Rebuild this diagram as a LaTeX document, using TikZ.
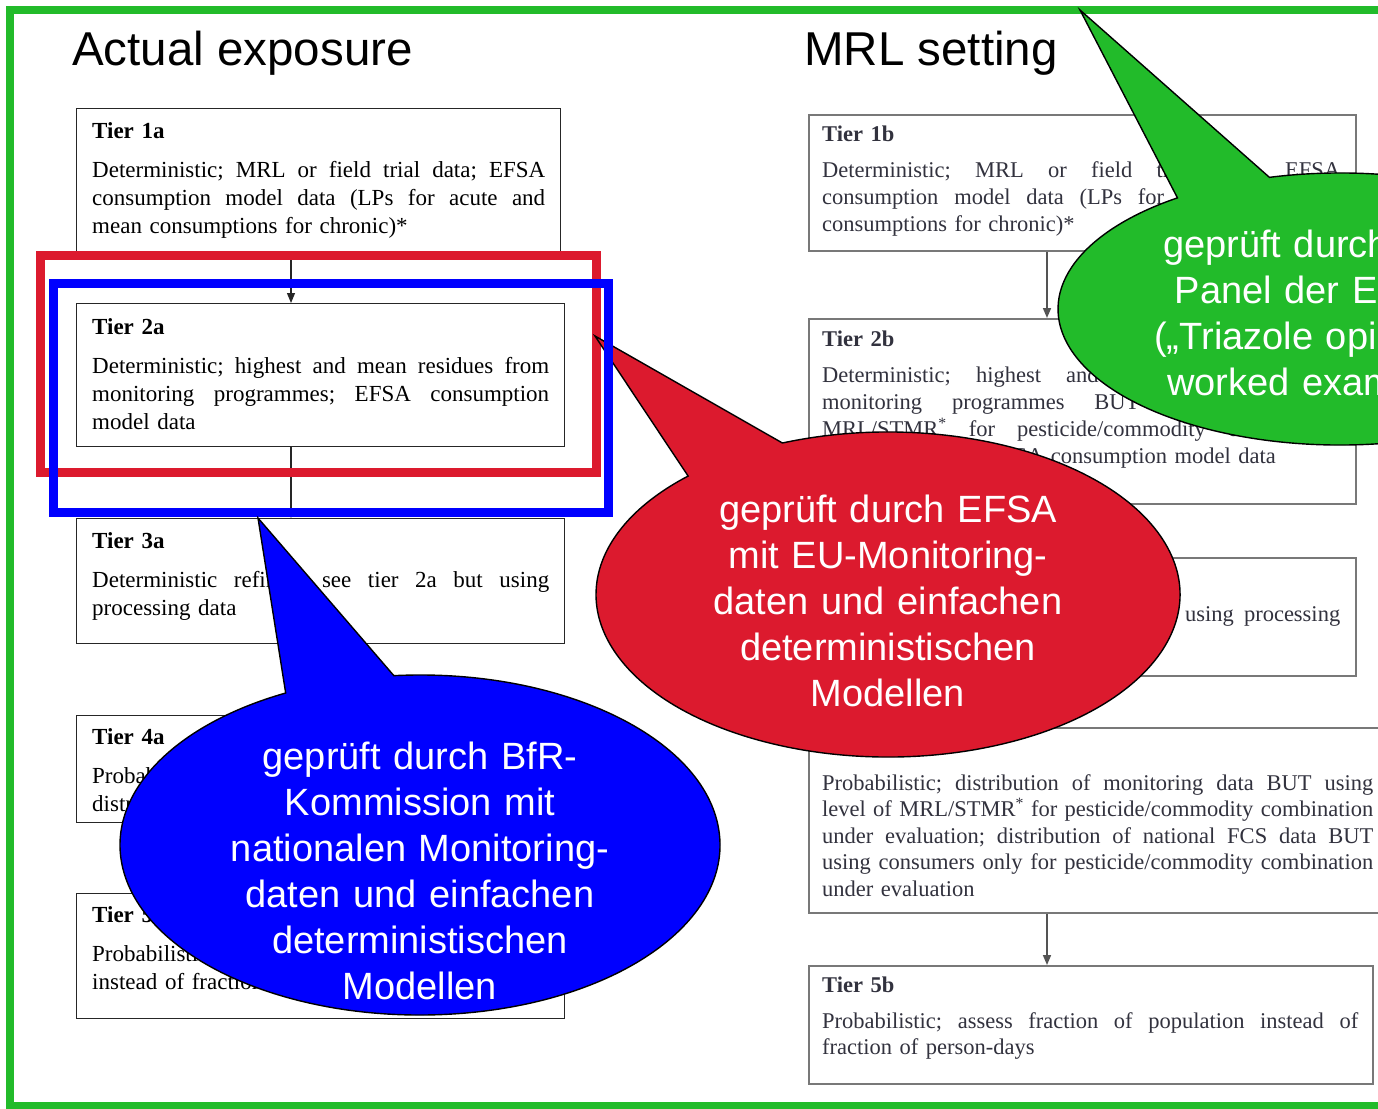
\documentclass[tikz,border=0pt]{standalone}
\usepackage{fontspec}
\setmainfont{Liberation Serif}
\newfontfamily\arialfont{Liberation Sans}
\usetikzlibrary{arrows.meta,calc}
\definecolor{frameGreen}{RGB}{34,187,42}
\definecolor{callRed}{RGB}{220,26,46}
\definecolor{callBlue}{RGB}{0,0,255}
\definecolor{scanText}{RGB}{50,50,62}
\definecolor{scanLine}{RGB}{120,120,120}
% one justified line of a given width: spaces stretch evenly
\newcommand\jl[2]{\leavevmode\hbox to #1{\frenchspacing\spaceskip=0.25em plus 1fil\relax #2}}
\begin{document}
\begin{tikzpicture}[x=1pt,y=-1pt,
 lbox/.style={draw=black!85, line width=1.1pt, anchor=north west, inner sep=0pt, fill=white},
 rbox/.style={draw=scanLine, line width=1.8pt, anchor=north west, inner sep=0pt, fill=white},
 ltext/.style={anchor=base west, inner sep=0pt, align=left, text width=457pt, font=\fontsize{23}{28}\selectfont, text=black},
 rtext/.style={anchor=base west, inner sep=0pt, align=left, text width=518pt, font=\fontsize{22.5}{27}\selectfont, text=scanText},
 arr/.style={draw=black!85, line width=1.1pt, -{Triangle[length=10pt,width=8pt]}},
 rarr/.style={draw=scanLine!70!black, line width=1.6pt, -{Triangle[length=10pt,width=8pt]}},
 calltext/.style={anchor=base, inner sep=0pt, align=center, text width=560pt, text=white, font=\arialfont\fontsize{38}{46}\selectfont},
 callout/.style={line width=1.4pt, draw=black, line join=miter, miter limit=40},
 heading/.style={anchor=base west, inner sep=0pt, font=\arialfont\fontsize{47.5}{56}\selectfont}
]
\useasboundingbox (0,0) rectangle (1378,1108);
\clip (0,0) rectangle (1378,1108);
\fill[white] (0,0) rectangle (1378,1108);

% green frame
\draw[frameGreen, line width=8pt] (10,10.5) rectangle (1420,1106);

% headings
\node[heading] (hActual) at (72,66) {Actual exposure};
\node[heading] (hMRL) at (804,66) {MRL setting};

% ---------- left column ----------
\node[lbox, minimum width=484pt, minimum height=148pt] (b1a) at (76,108) {};
\node[ltext, text width=453pt] (t1a) at (92,138) {\textbf{Tier 1a}\\[11pt]
\jl{453pt}{Deterministic; MRL or field trial data; EFSA}\\
\jl{453pt}{consumption model data (LPs for acute and}\\
mean consumptions for chronic)*};

\node[lbox, minimum width=488pt, minimum height=143pt] (b2a) at (76,303) {};
\node[ltext] (t2a) at (92,334) {\textbf{Tier 2a}\\[11pt]
\jl{457pt}{Deterministic; highest and mean residues from}\\
\jl{457pt}{monitoring programmes; EFSA consumption}\\
model data};

\node[lbox, minimum width=488pt, minimum height=125pt] (b3a) at (76,518) {};
\node[ltext] (t3a) at (92,548) {\textbf{Tier 3a}\\[11pt]
\jl{457pt}{Deterministic refined; see tier 2a but using}\\
processing data};

\node[lbox, minimum width=488pt, minimum height=107pt] (b4a) at (76,715) {};
\node[ltext] (t4a) at (92,744) {\textbf{Tier 4a}\\[11pt]
\jl{457pt}{Probabilistic; distribution of monitoring data;}\\
distribution of national FCS data};

\node[lbox, minimum width=488pt, minimum height=125pt] (b5a) at (76,893) {};
\node[ltext] (t5a) at (92,922) {\textbf{Tier 5a}\\[11pt]
\jl{457pt}{Probabilistic; assess fraction of population}\\
instead of fraction of person-days};

\draw[arr] ([xshift=215pt]b1a.south west) -- ([xshift=215pt]b2a.north west);
\draw[arr] ([xshift=215pt]b2a.south west) -- ([xshift=215pt]b3a.north west);
\draw[arr] ([xshift=215pt]b3a.south west) -- ([xshift=215pt]b4a.north west);
\draw[arr] ([xshift=215pt]b4a.south west) -- ([xshift=215pt]b5a.north west);

% ---------- right column ----------
\node[rbox, minimum width=547pt, minimum height=136pt] (b1b) at (808,114) {};
\node[rtext] (t1b) at (822,141) {\textbf{Tier 1b}\\[9pt]
\jl{518pt}{Deterministic; MRL or field trial data; EFSA}\\
\jl{518pt}{consumption model data (LPs for acute and mean}\\
consumptions for chronic)*};

\node[rbox, minimum width=547pt, minimum height=185pt] (b2b) at (808,318) {};
\node[rtext] (t2b) at (822,346) {\textbf{Tier 2b}\\[9pt]
\jl{518pt}{Deterministic; highest and mean residues from}\\
\jl{518pt}{monitoring programmes BUT using level of}\\
\jl{518pt}{MRL/STMR\textsuperscript{*} for pesticide/commodity combination}\\
under evaluation; EFSA consumption model data};

\node[rbox, minimum width=547pt, minimum height=118pt] (b3b) at (808,557) {};
\node[rtext] (t3b) at (822,585) {\textbf{Tier 3b}\\[9pt]
\jl{518pt}{Deterministic refined; see tier 2b but using processing}\\
data};

\node[rbox, minimum width=590pt, minimum height=185pt] (b4b) at (808,727) {};
\node[rtext, text width=551pt, font=\fontsize{22.5}{26.5}\selectfont] (t4b) at (822,790) {%
\jl{551pt}{Probabilistic; distribution of monitoring data BUT using}\\
\jl{551pt}{level of MRL/STMR\textsuperscript{*} for pesticide/commodity combination}\\
\jl{551pt}{under evaluation; distribution of national FCS data BUT}\\
\jl{551pt}{using consumers only for pesticide/commodity combination}\\
under evaluation};

\node[rbox, minimum width=564pt, minimum height=118pt] (b5b) at (808,965) {};
\node[rtext, text width=536pt, font=\fontsize{22.5}{26}\selectfont] (t5b) at (822,992) {\textbf{Tier 5b}\\[10pt]
\jl{536pt}{Probabilistic; assess fraction of population instead of}\\
fraction of person-days};

\draw[rarr] ([xshift=239pt]b1b.south west) -- ([xshift=239pt]b2b.north west);
\draw[rarr] ([xshift=239pt]b2b.south west) -- ([xshift=239pt]b3b.north west);
\draw[rarr] ([xshift=239pt]b3b.south west) -- ([xshift=239pt]b4b.north west);
\draw[rarr] ([xshift=239pt]b4b.south west) -- ([xshift=239pt]b5b.north west);

% ---------- red frame and callout ----------
\draw[callRed, line width=9pt] (40.5,255.5) rectangle (596.5,472.5);
\coordinate (redC) at (888,594.5);
\coordinate (redTip) at (595,336);
\path[callout, fill=callRed] ($(redC)+(-133.2:292 and 162.5)$) -- (redTip)
  -- ($(redC)+(-111.2:292 and 162.5)$)
  arc[start angle=-111.2, end angle=226.8, x radius=292, y radius=162.5] -- cycle;
\node[calltext] (redText) at (888,522) {geprüft durch EFSA\\
mit EU-Monitoring-\\
daten und einfachen\\
deterministischen\\
Modellen};

% ---------- blue frame and callout ----------
\draw[callBlue, line width=9pt] (53.5,283.5) rectangle (608.5,512.5);
\coordinate (blueC) at (420,845);
\coordinate (blueTip) at (258,518);
\path[callout, fill=callBlue] ($(blueC)+(-116.6:300 and 170)$) -- (blueTip)
  -- ($(blueC)+(-95:300 and 170)$)
  arc[start angle=-95, end angle=243.4, x radius=300, y radius=170] -- cycle;
\node[calltext] (blueText) at (420,769) {geprüft durch BfR-\\
Kommission mit\\
nationalen Monitoring-\\
daten und einfachen\\
deterministischen\\
Modellen};

% ---------- green callout ----------
\coordinate (greenC) at (1340,309);
\coordinate (greenTip) at (1080,10);
\path[callout, fill=frameGreen] ($(greenC)+(-125.2:282 and 136)$) -- (greenTip)
  -- ($(greenC)+(-104.5:282 and 136)$)
  arc[start angle=-104.5, end angle=234.8, x radius=282, y radius=136] -- cycle;
\node[calltext] (greenText) at (1313,257) {geprüft durch das\\
Panel der EFSA\\
(„Triazole opinion“,\\
worked example)};

\end{tikzpicture}
\end{document}
